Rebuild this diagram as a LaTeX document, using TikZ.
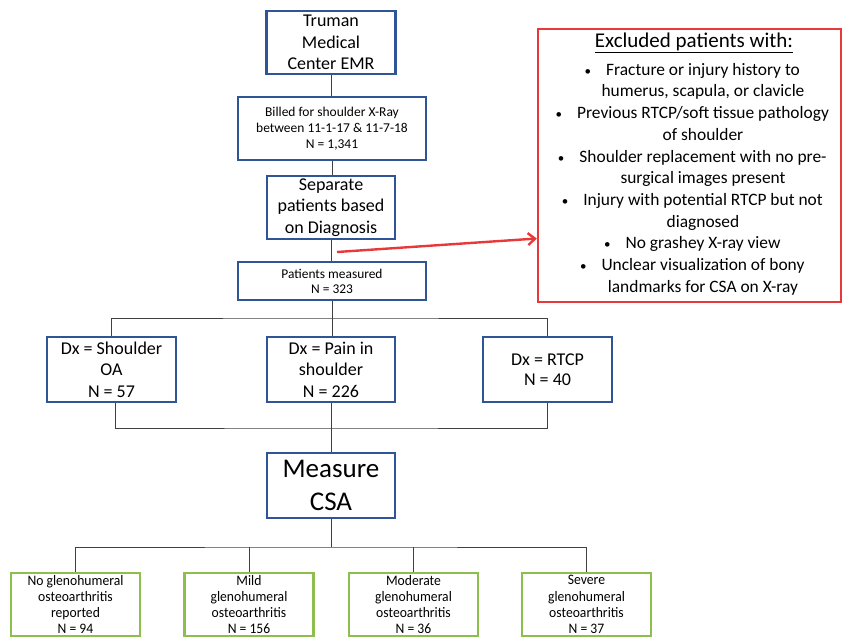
\documentclass[tikz,border=0pt]{standalone}
\usepackage{fontspec}
\setmainfont{Carlito}
\newfontfamily\NarrowFont[FakeStretch=0.94]{Carlito}
\usetikzlibrary{arrows.meta,positioning,calc}
\definecolor{BoxBlue}{HTML}{2F5597}
\definecolor{BoxGreen}{HTML}{8DBF4E}
\definecolor{ExRed}{HTML}{E8393A}
\definecolor{WireInk}{HTML}{404040}
\newcommand{\Bul}{\llap{{\fontsize{13}{0}\selectfont\textbullet}\hskip 15pt}}
\newcommand{\FSize}[2]{\fontsize{#1}{#2}\selectfont}
\tikzset{
  BlueBox/.style={draw=BoxBlue,line width=2.6pt,fill=white,align=center,inner sep=0pt},
  GreenBox/.style={draw=BoxGreen,line width=2.6pt,fill=white,align=center,inner sep=0pt,
    minimum width=129pt,minimum height=63pt,font=\NarrowFont\FSize{14.5}{16.3}},
  Wire/.style={draw=WireInk,line width=1pt},
  ExArrow/.style={draw=ExRed,line width=2.4pt,-{Straight Barb[length=7pt,width=12pt]}}
}

\begin{document}
\begin{tikzpicture}[x=1pt,y=-1pt]
\useasboundingbox (0,0) rectangle (843,637);
% main column
\node[BlueBox,minimum width=129pt,minimum height=63pt,font=\FSize{18}{21.7}] (emr) at (331,42.5) {Truman\\Medical\\Center EMR};
\node[BlueBox,minimum width=188pt,minimum height=63pt,font=\FSize{13.5}{16}] (billed) at (332,128.5) {Billed for shoulder X-Ray\\between 11-1-17 \& 11-7-18\\N = 1,341};
\node[BlueBox,minimum width=128pt,minimum height=63pt,font=\FSize{18}{21.7}] (sep) at (331,207.5) {Separate\\patients based\\on Diagnosis};
\node[BlueBox,minimum width=188pt,minimum height=38pt,font=\FSize{13.4}{15}] (pm) at (332,281) {Patients measured\\N = 323};
% diagnosis row
\node[BlueBox,minimum width=129pt,minimum height=65pt,font=\FSize{18}{21.5}] (oa) at (111.5,369.5) {Dx = Shoulder\\OA\\N = 57};
\node[BlueBox,minimum width=128pt,minimum height=65pt,font=\FSize{18}{21.5}] (pain) at (331,369.5) {Dx = Pain in\\shoulder\\N = 226};
\node[BlueBox,minimum width=129pt,minimum height=65pt,font=\FSize{18}{20}] (rtcp) at (547.5,369.5) {Dx = RTCP\\N = 40};
\node[BlueBox,minimum width=128pt,minimum height=65pt,font=\FSize{27}{33}] (csa) at (331,485.5) {Measure\\CSA};
% grades
\foreach \n/\x/\txt in {1/75.5/{No glenohumeral\\osteoarthritis\\reported\\N = 94},
  2/249/{Mild\\glenohumeral\\osteoarthritis\\N = 156},
  3/413.5/{Moderate\\glenohumeral\\osteoarthritis\\N = 36},
  4/586.5/{Severe\\glenohumeral\\osteoarthritis\\N = 37}}
  \node[GreenBox] (g\n) at (\x,604.5) {\txt};
% exclusions
\node[draw=ExRed,line width=2.4pt,minimum width=303pt,minimum height=273pt,inner sep=0pt] (excl) at (689.5,165.5) {};
\node[align=center,inner sep=0pt,font=\FSize{17.4}{21.7}] (exclText) at (703,164) {%
  \hspace*{-18pt}{\FSize{21}{25}\underline{Excluded patients with:}}\\[6pt]
  \Bul Fracture or injury history to\\
  humerus, scapula, or clavicle\\
  \Bul Previous RTCP/soft tissue pathology\\
  of shoulder\\
  \Bul Shoulder replacement with no pre-\\
  surgical images present\\
  \Bul Injury with potential RTCP but not\\
  diagnosed\\
  \Bul No grashey X-ray view\\
  \Bul Unclear visualization of bony\\
  landmarks for CSA on X-ray};
% connectors
\coordinate (TopBus) at (332,318);
\coordinate (LowBus) at (331,428);
\coordinate (GradeBus) at (331,547);
\coordinate (ArrowTail) at (337,252);
\draw[Wire] (emr.south) -- (emr.south |- billed.north);
\draw[Wire] (billed.south) -- (billed.south |- sep.north);
\draw[Wire] (sep.south) -- (sep.south |- pm.north);
\draw[Wire] (pm.south) -- (pm.south |- pain.north);
\draw[Wire] (oa.north) |- (TopBus) -| (rtcp.north);
\draw[Wire] ([xshift=4pt]oa.south) |- (LowBus) -| (rtcp.south);
\draw[Wire] (pain.south) -- (pain.south |- csa.north);
\draw[Wire] (csa.south) -- (GradeBus);
\draw[Wire] (g1.north) |- (GradeBus) -| (g4.north);
\draw[Wire] (g2.north) -- (g2.north |- GradeBus);
\draw[Wire] (g3.north) -- (g3.north |- GradeBus);
\draw[ExArrow] (ArrowTail) -- ([yshift=-73pt]excl.west);
\end{tikzpicture}
\end{document}
